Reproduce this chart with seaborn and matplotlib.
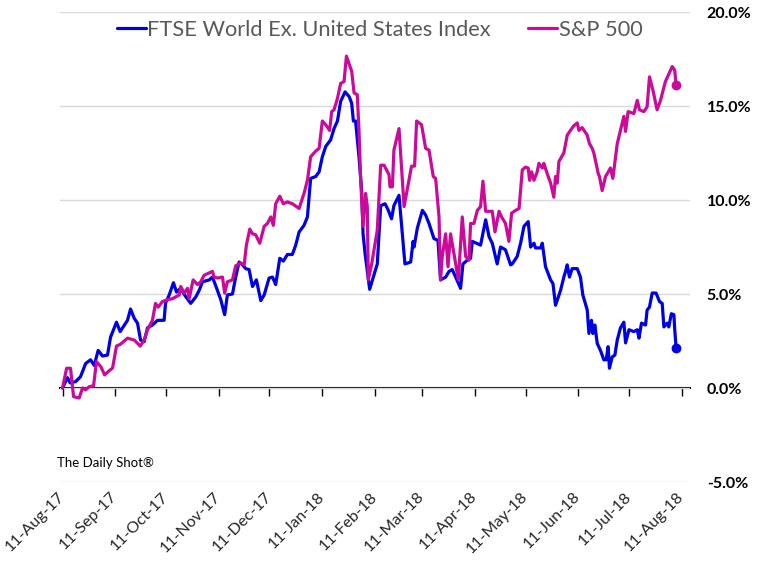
import numpy as np
import pandas as pd
import matplotlib
matplotlib.use('Agg')
import matplotlib.pyplot as plt
import matplotlib.dates as mdates
from matplotlib.ticker import FuncFormatter, NullFormatter
import seaborn as sns

# ---------------- data ----------------
START = '2017-08-11'
series_names = ['FTSE World Ex. United States Index', 'S&P 500']

# days since 11-Aug-2017, cumulative return in %
ftse_days = [0, 2.9, 4.5, 7.7, 10.6, 13.6, 16.5, 18.7, 21.0, 23.6,
             26.5, 28.3, 31.8, 34.0, 35.4, 38.3, 40.1, 42.3, 44.2, 46.0,
             48.1, 50.1, 53.0, 56.0, 59.9, 60.7, 62.9, 65.4, 67.2, 69.5,
             72.7, 75.6, 78.6, 80.6, 82.5, 86.5, 88.4, 91.3, 93.3, 95.6,
             97.2, 100.2, 102.1, 104.1, 106.1, 108.0, 110.0, 112.0, 114.3, 116.9,
             118.9, 121.8, 123.8, 125.7, 128.1, 130.2, 132.6, 135.5, 137.5, 139.5,
             142.4, 144.4, 146.3, 149.3, 151.3, 153.2, 155.2, 158.1, 160.1, 162.1,
             164.0, 166.6, 169.0, 170.5, 171.5, 172.8, 174.8, 176.4, 177.2, 178.4,
             181.1, 185.6, 187.6, 190.2, 192.1, 194.0, 195.4, 198.4, 201.9, 205.3,
             206.7, 207.3, 209.2, 212.2, 214.1, 216.1, 219.0, 221.4, 222.9, 225.9,
             227.9, 229.8, 231.8, 234.7, 236.1, 238.7, 240.6, 241.6, 246.5, 249.5,
             251.5, 253.4, 256.3, 258.3, 261.2, 264.2, 265.2, 268.1, 270.1, 272.1,
             274.6, 276.0, 278.0, 278.9, 281.9, 282.9, 284.8, 287.8, 289.2, 290.7,
             293.7, 295.6, 296.6, 297.6, 298.9, 300.5, 303.5, 305.4, 306.8, 309.4,
             310.4, 311.9, 312.7, 313.9, 315.3, 317.2, 319.2, 320.6, 321.7, 322.5,
             324.1, 325.7, 327.1, 329.0, 331.0, 332.0, 334.0, 336.9, 338.9, 339.9,
             341.4, 343.8, 344.7, 346.1, 347.7, 350.0, 352.0, 353.6, 354.6, 356.5,
             357.5, 359.0, 360.5, 361.0, 361.8]
ftse_vals = [0.0, 0.55, 0.27, 0.34, 0.6, 1.3, 1.5, 1.2, 2.0, 1.7,
             1.75, 2.7, 3.5, 3.0, 3.2, 3.6, 4.2, 3.7, 3.45, 2.55,
             2.46, 3.2, 3.35, 3.6, 3.6, 4.5, 4.95, 5.6, 5.1, 5.3,
             4.85, 4.5, 4.85, 5.2, 5.65, 5.75, 5.9, 5.2, 4.7, 3.9,
             4.95, 5.0, 5.9, 6.7, 6.55, 6.35, 6.3, 5.4, 5.75, 4.65,
             4.95, 5.85, 5.9, 5.5, 6.9, 6.75, 7.1, 7.1, 7.6, 8.3,
             8.65, 9.1, 11.15, 11.25, 11.5, 12.3, 12.85, 13.2, 13.8, 14.2,
             15.25, 15.75, 15.5, 15.15, 14.2, 14.2, 12.3, 10.5, 8.2, 7.15,
             5.25, 6.6, 9.7, 9.8, 9.45, 9.0, 9.7, 10.25, 6.6, 6.7,
             7.8, 7.5, 8.5, 9.45, 9.2, 8.75, 7.95, 7.85, 5.75, 5.9,
             6.2, 6.3, 5.9, 5.3, 6.6, 6.8, 6.9, 7.8, 7.6, 8.95,
             8.05, 7.7, 6.6, 7.5, 7.35, 6.55, 6.6, 7.0, 7.7, 8.6,
             8.85, 7.5, 7.7, 7.45, 7.45, 7.7, 6.45, 5.75, 5.55, 4.4,
             5.2, 5.9, 6.2, 6.55, 5.9, 6.35, 6.35, 5.9, 4.95, 4.15,
             2.9, 3.6, 2.9, 3.35, 2.37, 2.0, 1.5, 1.5, 2.2, 1.05,
             1.65, 1.75, 2.55, 3.2, 3.5, 2.4, 3.1, 3.0, 3.1, 2.65,
             3.45, 3.35, 4.15, 4.3, 5.05, 5.05, 4.6, 4.5, 3.25, 3.45,
             3.25, 3.95, 3.9, 3.1, 2.15]

spx_days = [0, 2.4, 4.7, 6.5, 9.8, 11.8, 13.6, 15.7, 18.3, 20.0,
            22.6, 24.8, 27.5, 29.5, 31.8, 34.2, 38.3, 42.3, 45.8, 48.1,
            50.1, 53.0, 54.8, 56.4, 58.9, 61.9, 64.8, 68.8, 69.7, 71.7,
            73.7, 74.7, 77.0, 79.6, 81.5, 83.5, 88.4, 89.4, 91.3, 94.3,
            95.6, 97.2, 100.2, 102.1, 105.1, 107.1, 108.4, 110.4, 112.0, 113.9,
            116.3, 118.9, 120.8, 122.8, 124.3, 125.7, 128.1, 130.2, 132.6, 135.5,
            139.5, 142.4, 144.4, 146.3, 149.3, 151.3, 153.2, 155.2, 157.5, 158.7,
            160.1, 162.1, 164.0, 166.0, 167.4, 170.5, 171.9, 173.8, 174.8, 175.8,
            177.2, 178.7, 179.7, 180.3, 182.3, 185.6, 187.6, 189.6, 192.5, 193.1,
            194.5, 195.4, 198.4, 201.4, 205.8, 207.6, 208.8, 211.7, 214.1, 216.1,
            218.6, 220.0, 222.0, 222.9, 223.9, 225.9, 227.3, 228.8, 230.8, 233.4,
            235.7, 237.7, 239.7, 240.6, 242.6, 244.6, 246.5, 247.9, 249.5, 253.4,
            255.0, 257.4, 258.9, 261.2, 263.2, 264.8, 267.2, 269.2, 270.1, 271.1,
            273.0, 274.6, 275.4, 276.6, 278.0, 279.9, 280.9, 282.9, 283.8, 285.8,
            287.8, 289.7, 290.7, 291.7, 292.7, 295.6, 297.6, 299.5, 301.5, 303.5,
            304.5, 306.4, 309.4, 310.7, 312.3, 313.3, 315.9, 316.6, 318.2, 320.2,
            323.1, 324.5, 327.1, 329.0, 331.0, 332.0, 333.5, 336.9, 338.9, 340.2,
            342.8, 344.7, 346.1, 348.1, 350.6, 352.6, 355.5, 359.5, 361.0, 361.8]
spx_vals = [0.0, 1.05, 1.05, -0.46, -0.53, 0.0, -0.1, 0.07, 0.12, 1.4,
            1.13, 0.7, 0.92, 1.06, 2.23, 2.33, 2.65, 2.55, 2.23, 2.55,
            3.1, 3.6, 4.5, 4.3, 4.6, 4.7, 4.75, 4.95, 5.4, 5.05,
            5.3, 4.75, 5.75, 5.5, 5.65, 6.0, 6.2, 5.9, 5.85, 5.9,
            5.05, 5.65, 5.75, 6.5, 6.65, 6.55, 7.6, 8.45, 8.2, 8.15,
            7.7, 8.6, 8.75, 9.1, 8.65, 9.8, 10.2, 9.8, 9.9, 9.8,
            9.55, 10.35, 11.05, 12.3, 12.6, 12.75, 14.2, 14.0, 13.7, 14.7,
            14.8, 15.4, 16.2, 16.3, 17.65, 16.85, 15.7, 15.6, 13.7, 11.05,
            8.6, 10.35, 9.65, 5.75, 6.6, 8.4, 11.85, 11.85, 11.35, 10.7,
            10.7, 12.65, 13.8, 9.65, 11.8, 11.8, 14.2, 14.0, 12.75, 12.65,
            11.25, 11.15, 9.1, 5.75, 7.0, 8.2, 6.45, 8.2, 7.15, 5.75,
            9.1, 7.0, 6.8, 8.75, 8.75, 9.45, 9.65, 11.0, 9.4, 9.4,
            8.3, 9.4, 9.1, 8.75, 7.8, 9.3, 9.45, 9.55, 10.5, 11.6,
            11.75, 11.7, 11.05, 11.5, 11.05, 11.5, 11.95, 11.7, 11.95, 11.4,
            10.9, 10.15, 11.25, 10.9, 12.05, 12.5, 13.45, 13.7, 13.95, 14.1,
            13.7, 13.85, 13.45, 13.0, 12.75, 12.5, 11.4, 11.25, 10.5, 11.25,
            11.7, 11.15, 13.0, 13.7, 14.45, 13.65, 14.7, 14.6, 15.3, 14.8,
            14.7, 14.95, 16.55, 15.85, 14.8, 15.3, 16.3, 17.1, 16.9, 16.1]

y_ticks = [-5, 0, 5, 10, 15, 20]
tick_dates = pd.date_range(START, periods=13, freq=pd.DateOffset(months=1))
source_note = 'The Daily Shot®'

# ---------------- styling ----------------
BLUE = '#0000e6'
MAGENTA = '#cc0a99'

sns.set_style('white')
plt.rcParams['font.family'] = ['Lato', 'DejaVu Sans']

start = pd.Timestamp(START)
df_f = pd.DataFrame({'date': start + pd.to_timedelta(ftse_days, unit='D'), 'value': ftse_vals})
df_s = pd.DataFrame({'date': start + pd.to_timedelta(spx_days, unit='D'), 'value': spx_vals})

fig = plt.figure(figsize=(7.61, 5.78), dpi=100)
ax = fig.add_axes([60 / 761, 96 / 578, 630 / 761, 470 / 578])

sns.lineplot(data=df_f, x='date', y='value', ax=ax, color=BLUE, lw=2.3,
             estimator=None, sort=False, label=series_names[0])
sns.lineplot(data=df_s, x='date', y='value', ax=ax, color=MAGENTA, lw=2.3,
             estimator=None, sort=False, label=series_names[1])
ax.scatter([df_f['date'].iloc[-1]], [df_f['value'].iloc[-1]], s=50, color=BLUE, zorder=5, linewidths=0)
ax.scatter([df_s['date'].iloc[-1]], [df_s['value'].iloc[-1]], s=50, color=MAGENTA, zorder=5, linewidths=0)

ax.set_ylim(-5, 20)
ax.set_xlim(start - pd.Timedelta(days=1.5), start + pd.Timedelta(days=370))
ax.set_xlabel('')
ax.set_ylabel('')

# y axis on the right
ax.yaxis.tick_right()
ax.set_yticks(y_ticks)
ax.yaxis.set_major_formatter(FuncFormatter(lambda v, p: f'{v:.1f}%'))
ax.tick_params(axis='y', length=0, pad=12, labelsize=11.5, labelcolor='black')
for lbl in ax.get_yticklabels():
    lbl.set_fontweight('bold')

ax.grid(axis='y', color='#d9d9d9', lw=1)
ax.grid(axis='x', visible=False)
for s in ax.spines.values():
    s.set_visible(False)

# x tick labels at the bottom
ax.set_xticks(tick_dates)
ax.xaxis.set_major_formatter(mdates.DateFormatter('%d-%b-%y'))
ax.tick_params(axis='x', length=0, pad=9, labelsize=11.5)
plt.setp(ax.get_xticklabels(), rotation=45, ha='right', va='center', rotation_mode='anchor')

# zero axis line with tick marks
sec = ax.secondary_xaxis(0.2)
sec.set_xticks(mdates.date2num(tick_dates))
sec.xaxis.set_major_formatter(NullFormatter())
sec.tick_params(axis='x', length=6, width=1, direction='out', color='black')
sec.spines['bottom'].set_color('black')
sec.spines['bottom'].set_linewidth(1.5)

leg = ax.legend(loc='center', bbox_to_anchor=(0.507, 0.962), ncol=2, frameon=False,
                handlelength=1.33, handletextpad=0.05, columnspacing=1.75,
                fontsize=15.7, labelcolor='#595959')

fig.text(57 / 761, 1 - 463 / 578, source_note, fontsize=9.5, va='center', ha='left', color='black')

fig.savefig('out.png', dpi=100)
